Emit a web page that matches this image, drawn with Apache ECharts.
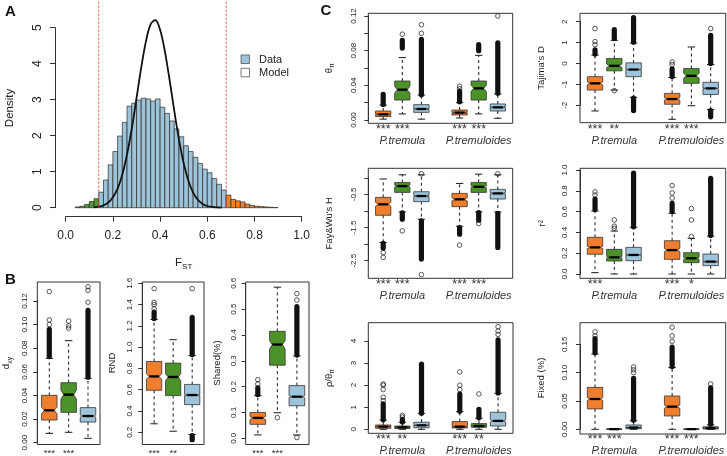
<!DOCTYPE html>
<html><head><meta charset="utf-8">
<script src="https://cdn.jsdelivr.net/npm/echarts@6/dist/echarts.min.js"></script>
<style>html,body{margin:0;padding:0;background:#fff}#c{width:727px;height:456px}</style>
</head><body><div id="c"></div>
<script>
// ---------------- DATA ----------------
// Panel A: FST histogram (density) and model curve
const fstBinLeft = [0.04,0.06,0.08,0.10,0.12,0.14,0.16,0.18,0.20,0.22,0.24,0.26,0.28,0.30,0.32,0.34,0.36,0.38,0.40,0.42,0.44,0.46,0.48,0.50,0.52,0.54,0.56,0.58,0.60,0.62,0.64,0.66,0.68,0.70,0.72,0.74,0.76,0.78,0.80,0.82,0.84,0.86,0.88];
const fstDensity = [0.02,0.04,0.09,0.17,0.25,0.43,0.77,1.19,1.56,1.99,2.37,2.82,2.90,2.99,3.04,3.02,2.96,3.02,2.79,2.62,2.41,2.19,1.97,1.72,1.56,1.40,1.23,1.07,0.97,0.81,0.65,0.49,0.35,0.23,0.19,0.16,0.10,0.065,0.04,0.03,0.02,0.01,0.005];
const fstThresholds = [0.14, 0.68];
const modelX = [0.12,0.14,0.16,0.18,0.20,0.22,0.24,0.26,0.28,0.30,0.32,0.34,0.36,0.38,0.40,0.42,0.44,0.46,0.48,0.50,0.52,0.54,0.56,0.58,0.60,0.62,0.64,0.66];
const modelY = [0.01,0.028,0.066,0.14,0.29,0.53,0.92,1.48,2.20,3.04,3.89,4.62,5.10,5.21,4.94,4.35,3.56,2.69,1.89,1.23,0.75,0.42,0.22,0.105,0.047,0.02,0.008,0.003];
const legendNames = ['Data', 'Model'];

// Panel B: [lower whisker, Q1, median, Q3, upper whisker]
const bPositions = [1, 2, 3];
const dxyStats = [[0.0079,0.0192,0.0274,0.0401,0.0714],[0.0088,0.0257,0.0407,0.0508,0.0864],[0.0037,0.0175,0.0226,0.0297,0.0545]];
const dxyNotch = [[0.0245,0.0303],[0.0370,0.0445],[0.0217,0.0235]];
const dxyOutliers = [[0.100,0.104,0.128],[0.097,0.099,0.103],[0.119,0.129,0.132]];
const dxyDense = [[[0.073,0.096]],[],[[0.0555,0.112]]];
const dxyStars = ['***','***',''];

const rndStats = [[0.28,0.595,0.725,0.865,1.26],[0.21,0.545,0.72,0.85,1.07],[0.18,0.46,0.55,0.65,0.92]];
const rndNotch = [[0.70,0.75],[0.685,0.75],[0.543,0.557]];
const rndOutliers = [[1.36,1.40,1.42,1.55],[],[1.55]];
const rndDense = [[[1.27,1.33]],[],[[0.93,1.28],[0.13,0.17]]];
const rndStars = ['***','**',''];

const sharedStats = [[0.013,0.054,0.079,0.100,0.165],[0.099,0.283,0.363,0.414,0.585],[0.013,0.126,0.161,0.204,0.319]];
const sharedNotch = [[0.072,0.085],[0.345,0.378],[0.157,0.165]];
const sharedOutliers = [[0.21,0.227],[0.08],[0.003,0.535,0.56]];
const sharedDense = [[[0.17,0.195]],[],[[0.322,0.51]]];
const sharedStars = ['***','***',''];

// Panel C: boxes at P.tremula (1,2,3) and P.tremuloides (5,6,7)
const cPositions = [1, 2, 3, 5, 6, 7];
const groupNames = ['P.tremula', 'P.tremuloides'];
const groupPositions = [2, 6];

const thetaStats = [[0.001,0.004,0.0065,0.0104,0.0173],[0.007,0.023,0.035,0.045,0.072],[0.001,0.0088,0.0127,0.0177,0.0288],[0.0023,0.0058,0.0085,0.0115,0.020],[0.007,0.023,0.0365,0.045,0.0746],[0.002,0.0104,0.0146,0.0185,0.030]];
const thetaNotch = [[0.006,0.007],[0.031,0.039],[0.0122,0.0132],[0.008,0.009],[0.033,0.040],[0.014,0.0152]];
const thetaOutliers = [[],[0.099],[0.100,0.110],[0.036,0.039],[],[0.12]];
const thetaDense = [[[0.018,0.0296]],[[0.083,0.092]],[[0.029,0.093]],[[0.021,0.033]],[[0.080,0.087]],[[0.031,0.089]]];
const thetaStars = ['***','***','','***','***',''];

const tajStats = [[-2.27,-1.27,-0.95,-0.63,0.40],[-1.27,-0.35,-0.11,0.24,1.11],[-1.62,-0.63,-0.29,0.03,0.98],[-2.67,-1.95,-1.70,-1.43,-0.67],[-2.02,-0.95,-0.59,-0.24,0.79],[-2.2,-1.48,-1.19,-0.90,-0.05]];
const tajNotch = [[-1.02,-0.88],[-0.20,-0.02],[-0.31,-0.27],[-1.76,-1.64],[-0.70,-0.47],[-1.21,-1.17]];
const tajOutliers = [[0.9,1.05,1.67],[-1.3],[],[-0.05,0.07],[],[1.67]];
const tajDense = [[[0.45,0.65]],[[1.2,1.62]],[[1.02,2.2],[-2.25,-1.66]],[[-0.62,-0.25]],[],[[0.0,1.35],[-2.55,-2.25]]];
const tajStars = ['***','**','','***','***',''];

const fwhStats = [[-1.95,-1.13,-0.80,-0.59,-0.035],[-1.03,-0.44,-0.25,-0.14,0.09],[-1.25,-0.72,-0.55,-0.42,0.09],[-1.46,-0.87,-0.65,-0.47,-0.17],[-1.03,-0.44,-0.27,-0.14,0.11],[-1.03,-0.64,-0.47,-0.35,0.09]];
const fwhNotch = [[-0.86,-0.74],[-0.28,-0.22],[-0.57,-0.53],[-0.70,-0.60],[-0.30,-0.24],[-0.49,-0.45]];
const fwhOutliers = [[-2.25,-2.4],[-1.6],[-2.92,0.12],[-2.03],[-1.38],[0.12]];
const fwhDense = [[[-2.12,-1.98]],[[-1.25,-1.06]],[[-2.45,-1.3]],[[-1.7,-1.5]],[[-1.28,-1.05]],[[-2.1,-1.07]]];
const fwhStars = ['***','***','','***','***',''];

const r2Stats = [[0.013,0.19,0.256,0.353,0.606],[0.0,0.125,0.16,0.237,0.413],[0.0,0.128,0.183,0.256,0.449],[0.0,0.141,0.23,0.32,0.583],[0.0,0.109,0.151,0.205,0.343],[0.0,0.08,0.119,0.192,0.365]];
const r2Notch = [[0.245,0.267],[0.152,0.168],[0.18,0.186],[0.215,0.245],[0.142,0.16],[0.116,0.122]];
const r2Outliers = [[0.76,0.79],[0.44,0.46,0.52],[],[0.73,0.78,0.85],[0.36,0.52,0.63],[]];
const r2Dense = [[[0.62,0.72]],[],[[0.455,0.97]],[[0.6,0.68]],[],[[0.37,0.92]]];
const r2Stars = ['***','','','***','*',''];

const rhoStats = [[0,0.045,0.12,0.196,0.42],[0,0.04,0.09,0.15,0.32],[0,0.07,0.18,0.32,0.72],[0,0.06,0.12,0.35,0.8],[0,0.09,0.15,0.26,0.5],[0,0.15,0.38,0.77,1.63]];
const rhoNotch = [[0.11,0.13],[0.085,0.095],[0.17,0.19],[0.10,0.14],[0.14,0.16],[0.33,0.43]];
const rhoOutliers = [[1.3,1.45,1.8,2.0,2.05],[0.55,0.63],[],[1.8,2.0,2.6],[1.6],[4.3,4.45,4.65]];
const rhoDense = [[[0.43,1.15]],[[0.33,0.45]],[[0.73,2.95]],[[0.82,1.6]],[[0.52,0.9]],[[1.65,4.05]]];
const rhoStars = ['***','**','','***','**',''];

const fixedStats = [[0,0.036,0.0535,0.074,0.133],[0,0,0.0003,0.0006,0.001],[0,0.001,0.003,0.0076,0.0153],[0,0.0235,0.040,0.0588,0.109],[0,0,0.0003,0.0006,0.001],[0,0.0005,0.002,0.0045,0.008]];
const fixedNotch = [[0.051,0.056],[0.0003,0.0003],[0.0028,0.0032],[0.037,0.043],[0.0003,0.0003],[0.0018,0.0022]];
const fixedOutliers = [[0.165,0.172],[],[0.1,0.105,0.11],[0.155,0.165,0.18],[],[0.08]];
const fixedDense = [[[0.135,0.16]],[],[[0.016,0.09]],[[0.111,0.145]],[],[[0.009,0.073]]];
const fixedStars = ['***','***','','***','***',''];

// ---------------- STYLE / LAYOUT ----------------
const FONT = '"Liberation Sans", Arial, Helvetica, sans-serif';
const boxFill = ['#EF7F2E', '#4B9229', '#9DC4DA'];
const histFill = {low: '#4E9A2E', mid: '#9CC3D8', high: '#F0822E'};
const INK = '#222';

const measureCtx = document.createElement('canvas').getContext('2d');
function textW(t, size, style) { measureCtx.font = (style || '') + ' ' + size + 'px "Liberation Sans"'; return measureCtx.measureText(t).width; }
function label(parts, cx, cy, rotated) {
  const ws = parts.map(p => textW(p.t, p.size));
  let x0 = -ws.reduce((a, b) => a + b, 0) / 2;
  const children = parts.map((p, i) => {
    const el = {type: 'text', x: x0, y: p.dy || 0, style: {text: p.t, fontSize: p.size, fontFamily: FONT, fill: INK, textAlign: 'left', align: 'left', textVerticalAlign: 'middle', verticalAlign: 'middle'}};
    x0 += ws[i]; return el;
  });
  return {type: 'group', x: cx, y: cy, rotation: rotated ? Math.PI / 2 : 0, children};
}

const grids = [], xAxes = [], yAxes = [], series = [], graphics = [];

// ---- Panel A ----
grids.push({left: 65.7, top: 27.7, width: 236, height: 180, containLabel: false, outerBoundsMode: 'none'});
xAxes.push({gridIndex: 0, type: 'value', min: 0, max: 1, interval: 0.2, offset: 9,
  axisLine: {show: true, onZero: false, lineStyle: {color: '#333', width: 1}},
  axisTick: {show: true, length: 5, lineStyle: {color: '#333'}},
  axisLabel: {fontSize: 12, color: INK, margin: 13, fontFamily: FONT, showMinLabel: true, showMaxLabel: true, formatter: v => v.toFixed(1)},
  splitLine: {show: false}});
yAxes.push({gridIndex: 0, type: 'value', min: 0, max: 5, interval: 1, offset: 10.7,
  axisLine: {show: true, onZero: false, lineStyle: {color: '#333', width: 1}},
  axisTick: {show: true, length: 5, lineStyle: {color: '#333'}},
  axisLabel: {fontSize: 12, color: INK, margin: 11, rotate: 90, fontFamily: FONT, showMinLabel: true, showMaxLabel: true, formatter: v => String(v)},
  splitLine: {show: false}});
const binW = fstBinLeft[1] - fstBinLeft[0];
series.push({type: 'custom', xAxisIndex: 0, yAxisIndex: 0, silent: true, clip: false,
  data: fstBinLeft.map((x, i) => [x, x + binW, fstDensity[i]]),
  renderItem: (params, api) => {
    const x0 = api.value(0), x1 = api.value(1), h = api.value(2);
    const p0 = api.coord([x0, h]), p1 = api.coord([x1, 0]);
    let fill = histFill.mid;
    if (x1 <= fstThresholds[0] + 1e-9) fill = histFill.low;
    else if (x0 >= fstThresholds[1] - 1e-9) fill = histFill.high;
    return {type: 'rect', shape: {x: p0[0], y: p0[1], width: p1[0] - p0[0], height: p1[1] - p0[1]}, style: {fill, stroke: '#2a2a2a', lineWidth: 0.7}};
  }});
series.push({type: 'line', xAxisIndex: 0, yAxisIndex: 0, silent: true, clip: false, smooth: 0.35, symbol: 'none', z: 5,
  data: modelX.map((x, i) => [x, modelY[i]]), lineStyle: {color: '#111', width: 1.8}});
fstThresholds.forEach(t => series.push({type: 'line', xAxisIndex: 0, yAxisIndex: 0, silent: true, clip: false, symbol: 'none', z: 6,
  data: [[t, 0], [t, 5.8]], lineStyle: {color: '#E0463C', width: 1, type: [2, 2]}}));
// legend
graphics.push({type: 'rect', shape: {x: 241, y: 55, width: 8.5, height: 8.5}, style: {fill: histFill.mid, stroke: '#555', lineWidth: 0.8}});
graphics.push({type: 'rect', shape: {x: 241, y: 68.3, width: 8.5, height: 8.5}, style: {fill: '#fff', stroke: '#555', lineWidth: 0.8}});
graphics.push({type: 'text', x: 259, y: 59.5, style: {text: legendNames[0], fontSize: 11, fontFamily: FONT, fill: INK, textVerticalAlign: 'middle', verticalAlign: 'middle'}});
graphics.push({type: 'text', x: 259, y: 72.7, style: {text: legendNames[1], fontSize: 11, fontFamily: FONT, fill: INK, textVerticalAlign: 'middle', verticalAlign: 'middle'}});
graphics.push(label([{t: 'Density', size: 11.5}], 9.5, 108, true));
graphics.push(label([{t: 'F', size: 11.5}, {t: 'ST', size: 8, dy: 4}], 183.7, 263, false));
// panel letters
[['A', 10.5, 11.5], ['B', 10.5, 280], ['C', 326, 11]].forEach(([t, x, y]) => graphics.push({type: 'text', x, y, style: {text: t, fontSize: 15, fontWeight: 'bold', fontFamily: FONT, fill: '#111', textAlign: 'center', align: 'center', textVerticalAlign: 'middle', verticalAlign: 'middle'}}));

// ---- Box panels ----
function renderBox(params, api) {
  const x = api.value(0);
  const lo = api.value(1), q1 = api.value(2), med = api.value(3), q3 = api.value(4), hi = api.value(5);
  const nlo = api.value(6), nhi = api.value(7), ci = api.value(8);
  const cx = api.coord([x, med])[0];
  const Y = v => api.coord([x, v])[1];
  const w = api.size([0.8, 0])[0] / 2;
  const cw = w * 0.48;
  const nw = w * 0.65;
  const pts = [[cx - w, Y(q1)], [cx - w, Y(nlo)], [cx - nw, Y(med)], [cx - w, Y(nhi)], [cx - w, Y(q3)],
               [cx + w, Y(q3)], [cx + w, Y(nhi)], [cx + nw, Y(med)], [cx + w, Y(nlo)], [cx + w, Y(q1)]];
  const dash = {stroke: '#1a1a1a', lineWidth: 1, lineDash: [3, 3]};
  const solid = {stroke: '#1a1a1a', lineWidth: 1};
  return {type: 'group', children: [
    {type: 'line', shape: {x1: cx, y1: Y(q3), x2: cx, y2: Y(hi)}, style: dash},
    {type: 'line', shape: {x1: cx, y1: Y(q1), x2: cx, y2: Y(lo)}, style: dash},
    {type: 'line', shape: {x1: cx - cw, y1: Y(hi), x2: cx + cw, y2: Y(hi)}, style: solid},
    {type: 'line', shape: {x1: cx - cw, y1: Y(lo), x2: cx + cw, y2: Y(lo)}, style: solid},
    {type: 'polygon', shape: {points: pts}, style: {fill: boxFill[ci], stroke: '#333', lineWidth: 0.8}},
    {type: 'line', shape: {x1: cx - nw, y1: Y(med), x2: cx + nw, y2: Y(med)}, style: {stroke: '#000', lineWidth: 2.3}}
  ]};
}
function renderDense(params, api) {
  const x = api.value(0), a = api.value(1), b = api.value(2);
  const pa = api.coord([x, a]), pb = api.coord([x, b]);
  const r = 2.6;
  return {type: 'rect', shape: {x: pb[0] - r, y: pb[1] - r, width: 2 * r, height: (pa[1] - pb[1]) + 2 * r, r: r}, style: {fill: '#111'}};
}

function addBoxPanel(def, ds, pos) {
  const gi = grids.length;
  const [l, t, r, b] = def.frame;
  grids.push({left: l, top: def.py[1], width: r - l, height: def.py[0] - def.py[1], containLabel: false, outerBoundsMode: 'none'});
  xAxes.push({gridIndex: gi, type: 'value', min: def.xr[0], max: def.xr[1], show: false});
  const base = def.yr[0];
  yAxes.push({gridIndex: gi, type: 'value', min: def.yr[0], max: def.yr[1], interval: def.step,
    axisLine: {show: true, onZero: false, lineStyle: {color: '#333', width: 1}},
    axisTick: {show: true, length: 4, lineStyle: {color: '#333'}},
    splitLine: {show: false},
    axisLabel: {show: true, rotate: 90, fontSize: 8, color: INK, fontFamily: FONT, margin: def.margin, showMinLabel: true, showMaxLabel: true, hideOverlap: false,
      formatter: v => { const k = (v - base) / def.lab; return Math.abs(k - Math.round(k)) < 1e-6 ? v.toFixed(def.dec) : ''; }}});
  graphics.push({type: 'rect', shape: {x: l, y: t, width: r - l, height: b - t}, style: {fill: 'none', stroke: '#333', lineWidth: 1}, z: 100});
  const common = {xAxisIndex: gi, yAxisIndex: gi, silent: true, clip: false};
  series.push(Object.assign({type: 'custom', renderItem: renderBox, z: 3,
    data: ds.stats.map((s, k) => [pos[k], ...s, ...ds.notch[k], k % 3])}, common));
  const dense = [];
  ds.dense.forEach((rs, k) => rs.forEach(rg => dense.push([pos[k], rg[0], rg[1]])));
  series.push(Object.assign({type: 'custom', renderItem: renderDense, z: 4, data: dense}, common));
  const outs = [];
  ds.out.forEach((vs, k) => vs.forEach(v => outs.push([pos[k], v])));
  series.push(Object.assign({type: 'scatter', symbol: 'circle', symbolSize: 4.6, z: 4, data: outs,
    itemStyle: {color: 'rgba(0,0,0,0)', borderColor: '#1a1a1a', borderWidth: 0.9}}, common));
  series.push(Object.assign({type: 'custom', z: 5, data: pos.map(p => [p, def.yr[0]]),
    renderItem: (params, api) => {
      const x = api.coord([api.value(0), def.yr[0]])[0];
      return {type: 'text', x: x, y: def.starY, style: {text: ds.stars[params.dataIndex], fontSize: def.starSize, fontFamily: FONT, fill: '#333', textAlign: 'center', align: 'center', textVerticalAlign: 'middle', verticalAlign: 'middle'}};
    }}, common));
  if (def.groupY) {
    series.push(Object.assign({type: 'custom', z: 5, data: groupPositions.map(p => [p, def.yr[0]]),
      renderItem: (params, api) => {
        const x = api.coord([api.value(0), def.yr[0]])[0];
        return {type: 'text', x: x, y: def.groupY, style: {text: groupNames[params.dataIndex], fontSize: 11, fontStyle: 'italic', fontFamily: FONT, fill: '#333', textAlign: 'center', align: 'center', textVerticalAlign: 'middle', verticalAlign: 'middle'}};
      }}, common));
  }
  graphics.push(label(def.ylab, def.ylx, def.yly, true));
}

const bX = [0.38, 3.62], cX = [0.22, 7.78];
addBoxPanel({frame: [37.3, 282, 100, 444.5], yr: [0, 0.12], py: [442.7, 301], step: 0.02, lab: 0.02, dec: 2, margin: 8.5, xr: bX,
  ylab: [{t: 'd', size: 9.5}, {t: 'xy', size: 7, dy: 3}], ylx: 6.7, yly: 363, starY: 453.5, starSize: 9.5},
  {stats: dxyStats, notch: dxyNotch, out: dxyOutliers, dense: dxyDense, stars: dxyStars}, bPositions);
addBoxPanel({frame: [142.3, 282, 204, 444.5], yr: [0.2, 1.6], py: [432.3, 283.3], step: 0.2, lab: 0.2, dec: 1, margin: 8.5, xr: bX,
  ylab: [{t: 'RND', size: 9.5}], ylx: 112.5, yly: 363, starY: 453.5, starSize: 9.5},
  {stats: rndStats, notch: rndNotch, out: rndOutliers, dense: rndDense, stars: rndStars}, bPositions);
addBoxPanel({frame: [245.7, 282, 309, 444.5], yr: [0, 0.6], py: [438.3, 283.3], step: 0.1, lab: 0.1, dec: 1, margin: 7.5, xr: bX,
  ylab: [{t: 'Shared(%)', size: 9.5}], ylx: 217, yly: 363, starY: 453.5, starSize: 9.5},
  {stats: sharedStats, notch: sharedNotch, out: sharedOutliers, dense: sharedDense, stars: sharedStars}, bPositions);

addBoxPanel({frame: [368.3, 13.3, 512.7, 123.3], yr: [0, 0.12], py: [120, 16], step: 0.02, lab: 0.04, dec: 2, margin: 11, xr: cX,
  ylab: [{t: 'θ', size: 9.5}, {t: 'π', size: 7, dy: 3}], ylx: 329.5, yly: 68.3, starY: 129.5, starSize: 12.5, groupY: 140.5},
  {stats: thetaStats, notch: thetaNotch, out: thetaOutliers, dense: thetaDense, stars: thetaStars}, cPositions);
addBoxPanel({frame: [580, 13.3, 725.7, 122.7], yr: [-2, 2], py: [105.3, 21.7], step: 1, lab: 1, dec: 0, margin: 11, xr: cX,
  ylab: [{t: "Tajima's D", size: 9.5}], ylx: 541, yly: 68, starY: 129.5, starSize: 12.5, groupY: 140.5},
  {stats: tajStats, notch: tajNotch, out: tajOutliers, dense: tajDense, stars: tajStars}, cPositions);
addBoxPanel({frame: [368.3, 168.3, 512.7, 278.3], yr: [-2.5, 0], py: [260.7, 177.8], step: 0.5, lab: 1, dec: 1, margin: 11, xr: cX,
  ylab: [{t: "Fay&Wu's H", size: 9.5}], ylx: 329.5, yly: 223.3, starY: 284.5, starSize: 12.5, groupY: 296},
  {stats: fwhStats, notch: fwhNotch, out: fwhOutliers, dense: fwhDense, stars: fwhStars}, cPositions);
addBoxPanel({frame: [580, 168.3, 725.7, 278.3], yr: [0, 1], py: [274, 170], step: 0.2, lab: 0.2, dec: 1, margin: 11, xr: cX,
  ylab: [{t: 'r²', size: 9.5}], ylx: 542, yly: 223.3, starY: 284.5, starSize: 12.5, groupY: 296},
  {stats: r2Stats, notch: r2Notch, out: r2Outliers, dense: r2Dense, stars: r2Stars}, cPositions);
addBoxPanel({frame: [368.3, 322.7, 513, 433.3], yr: [0, 4], py: [429.3, 341], step: 1, lab: 1, dec: 0, margin: 11, xr: cX,
  ylab: [{t: 'ρ/θ', size: 9.5}, {t: 'π', size: 7, dy: 3}], ylx: 329.5, yly: 378, starY: 439.5, starSize: 12.5, groupY: 451},
  {stats: rhoStats, notch: rhoNotch, out: rhoOutliers, dense: rhoDense, stars: rhoStars}, cPositions);
addBoxPanel({frame: [580, 322.7, 725.7, 434], yr: [0, 0.15], py: [429.3, 344.3], step: 0.05, lab: 0.05, dec: 2, margin: 11, xr: cX,
  ylab: [{t: 'Fixed (%)', size: 9.5}], ylx: 541, yly: 378, starY: 439.5, starSize: 12.5, groupY: 451},
  {stats: fixedStats, notch: fixedNotch, out: fixedOutliers, dense: fixedDense, stars: fixedStars}, cPositions);

const chart = echarts.init(document.getElementById('c'), null, {renderer: 'canvas', width: 727, height: 456});
chart.setOption({
  animation: false,
  backgroundColor: '#fff',
  textStyle: {fontFamily: FONT},
  grid: grids, xAxis: xAxes, yAxis: yAxes, series: series,
  graphic: {elements: graphics}
});
</script></body></html>
